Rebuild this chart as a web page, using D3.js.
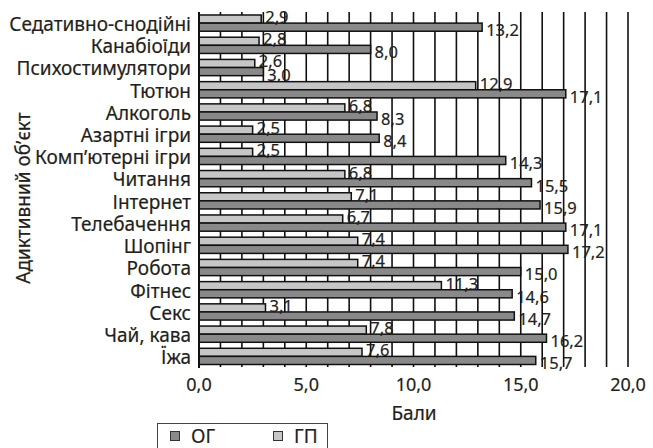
<!DOCTYPE html>
<html><head><meta charset="utf-8">
<script src="https://cdn.jsdelivr.net/npm/d3@7"></script>
<style>body{margin:0;background:#fff}svg{display:block}text{font-family:"Noto Sans",sans-serif;fill:#231f20;stroke:#231f20;stroke-width:0.2px}</style>
</head><body>
<script>
const categories = ["Седативно-снодійні","Канабіоїди","Психостимулятори","Тютюн","Алкоголь","Азартні ігри","Комп’ютерні ігри","Читання","Інтернет","Телебачення","Шопінг","Робота","Фітнес","Секс","Чай, кава","Їжа"];
const seriesNames = ["ГП","ОГ"];
const valuesOG = [13.2,8.0,3.0,17.1,8.3,8.4,14.3,15.5,15.9,17.1,17.2,15.0,14.6,14.7,16.2,15.7];
const valuesGP = [2.9,2.8,2.6,12.9,6.8,2.5,2.5,6.8,7.1,6.7,7.4,7.4,11.3,3.1,7.8,7.6];
const xTicks = [0,5,10,15,20];
const legendItems = ["ОГ","ГП"];
const colors = {"ОГ":"#898989","ГП":"#c6c6c6"};

const W=653,H=448;
const svg=d3.select("body").append("svg").attr("width",W).attr("height",H);
const x=d3.scaleLinear().domain([0,20]).range([199,628]);
const y=d3.scaleBand().domain(categories).range([12,367.5]).paddingInner(0.27).paddingOuter(0.135);
const ySub=d3.scaleBand().domain(seriesNames).range([0,y.bandwidth()]);
const fmt=v=>d3.format(".1f")(v).replace(".",",");

// grid lines
svg.append("g").selectAll("line").data(d3.range(1,21)).join("line")
  .attr("x1",d=>x(d)).attr("x2",d=>x(d)).attr("y1",12).attr("y2",367)
  .attr("stroke","#111").attr("stroke-width",1.6);

const data=categories.map((c,i)=>({c,vals:[{s:"ГП",v:valuesGP[i]},{s:"ОГ",v:valuesOG[i]}]}));
const g=svg.append("g").selectAll("g").data(data).join("g").attr("transform",d=>`translate(0,${y(d.c)})`);
g.selectAll("rect").data(d=>d.vals).join("rect")
  .attr("x",x(0)).attr("y",d=>ySub(d.s)).attr("width",d=>x(d.v)-x(0)).attr("height",ySub.bandwidth())
  .attr("fill",d=>colors[d.s]).attr("stroke","#111").attr("stroke-width",1.5);
g.selectAll("text").data(d=>d.vals).join("text")
  .attr("x",d=>x(d.v)+4).attr("y",d=>ySub(d.s)+ySub.bandwidth()/2+(d.s==="ГП"?-2:3))
  .attr("dy","0.36em").attr("font-size",16.5).text(d=>fmt(d.v));

// y axis line
svg.append("line").attr("x1",x(0)).attr("x2",x(0)).attr("y1",12).attr("y2",368).attr("stroke","#111").attr("stroke-width",2);

// category labels
svg.append("g").selectAll("text").data(categories).join("text")
  .attr("x",191).attr("y",d=>y(d)+y.bandwidth()/2+1).attr("dy","0.36em")
  .attr("text-anchor","end").attr("font-size",19).text(d=>d);

// x tick labels
svg.append("g").selectAll("text").data(xTicks).join("text")
  .attr("x",d=>x(d)).attr("y",391).attr("text-anchor","middle").attr("font-size",18).text(d=>fmt(d));

svg.append("text").attr("x",414).attr("y",420).attr("text-anchor","middle").attr("font-size",19).text("Бали");
svg.append("text").attr("transform","translate(30,198) rotate(-90)").attr("text-anchor","middle").attr("font-size",19).text("Адиктивний об’єкт");

// legend
const lg=svg.append("g");
lg.append("rect").attr("x",157.5).attr("y",423.5).attr("width",170).attr("height",40).attr("fill","#fff").attr("stroke","#444").attr("stroke-width",1);
const lx=[170,273];
legendItems.forEach((s,i)=>{
  lg.append("rect").attr("x",lx[i]+0.5).attr("y",431.5).attr("width",9).attr("height",9).attr("fill",colors[s]).attr("stroke","#333").attr("stroke-width",1);
  lg.append("text").attr("x",lx[i]+21).attr("y",443).attr("font-size",19).text(s);
});
</script>
</body></html>
